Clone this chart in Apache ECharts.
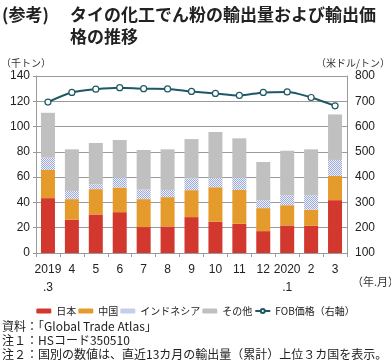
<!DOCTYPE html>
<html><head><meta charset="utf-8">
<script src="https://cdn.jsdelivr.net/npm/echarts@6/dist/echarts.min.js"></script>
<style>html,body{margin:0;padding:0;background:#fff}#c{width:391px;height:362px}</style>
</head><body><div id="c"></div>
<script>
const categories = ['2019\n.3','4','5','6','7','8','9','10','11','12','2020\n.1','2','3'];
const japan = [43.4,26.3,30.5,32.3,20.5,21.0,28.4,24.7,23.1,17.3,21.8,21.5,41.8];
const china = [22.3,16.3,20.0,19.5,22.1,23.2,21.3,27.3,26.8,18.2,16.0,12.7,19.2];
const indonesia = [9.7,6.5,3.9,8.1,7.6,5.7,9.4,7.4,10.0,6.3,7.9,11.5,12.6];
const others = [35.5,32.9,32.6,29.5,31.3,32.1,31.0,36.3,30.8,30.2,35.2,36.3,36.0];
const fob = [697,735,748,754,750,749,739,731,723,735,737,715,682];
const leftTicks = {min:0,max:140,interval:20};
const rightTicks = {min:100,max:800,interval:100};

const JP = '"Noto Sans CJK JP", sans-serif';
const NUM = '"Liberation Sans", Arial, sans-serif';

function hatch(){
  const c = document.createElement('canvas'); c.width = 4; c.height = 4;
  const x = c.getContext('2d');
  x.fillStyle = '#eef1fa'; x.fillRect(0,0,4,4);
  x.fillStyle = '#9eabd9';
  x.fillRect(0,0,1,1); x.fillRect(2,0,1,1); x.fillRect(1,1,1,1); x.fillRect(3,1,1,1);
  x.fillRect(0,2,1,1); x.fillRect(2,2,1,1); x.fillRect(1,3,1,1); x.fillRect(3,3,1,1);
  return c;
}
const pat = {image: hatch(), repeat: 'repeat'};

const chart = echarts.init(document.getElementById('c'));
const barW = 14;
chart.setOption({
  animation:false,
  textStyle:{fontFamily:NUM},
  grid:{left:36,right:44,top:76,bottom:109},
  legend:{
    top:301,left:'center',itemWidth:15,itemHeight:5,itemGap:2,
    textStyle:{fontFamily:JP,fontSize:10,color:'#222'},
    data:['日本','中国','インドネシア','その他','FOB価格（右軸）']
  },
  xAxis:{
    type:'category',data:categories,
    axisLine:{lineStyle:{color:'#9a9a9a',width:1}},
    axisTick:{show:true,alignWithLabel:false,length:4,lineStyle:{color:'#9a9a9a'}},
    axisLabel:{color:'#222',fontSize:12,fontFamily:NUM,lineHeight:18,margin:8,interval:0}
  },
  yAxis:[
    {type:'value',min:leftTicks.min,max:leftTicks.max,interval:leftTicks.interval,
     axisLine:{show:true,lineStyle:{color:'#9a9a9a'}},
     axisTick:{show:true,length:3,lineStyle:{color:'#9a9a9a'}},
     splitLine:{lineStyle:{color:'#9a9a9a',width:1}},
     axisLabel:{color:'#222',fontSize:12,fontFamily:NUM,margin:6}},
    {type:'value',min:rightTicks.min,max:rightTicks.max,interval:rightTicks.interval,
     axisLine:{show:true,lineStyle:{color:'#9a9a9a'}},
     axisTick:{show:false},
     splitLine:{show:false},
     axisLabel:{color:'#222',fontSize:12,fontFamily:NUM,margin:8}}
  ],
  series:[
    {name:'日本',type:'bar',stack:'a',barWidth:barW,data:japan,itemStyle:{color:'#d2382e'}},
    {name:'中国',type:'bar',stack:'a',barWidth:barW,data:china,itemStyle:{color:'#e59a2c'}},
    {name:'インドネシア',type:'bar',stack:'a',barWidth:barW,data:indonesia,itemStyle:{color:pat}},
    {name:'その他',type:'bar',stack:'a',barWidth:barW,data:others,itemStyle:{color:'#c0c0c0'}},
    {name:'FOB価格（右軸）',type:'line',yAxisIndex:1,data:fob,smooth:0.3,
     symbol:'circle',symbolSize:6,
     lineStyle:{color:'#1f5865',width:2},
     itemStyle:{color:'#fff',borderColor:'#1f5865',borderWidth:1.2}}
  ],
  graphic:[
    {type:'text',left:2,top:6,style:{text:'(参考)',font:'bold 17px '+JP,fill:'#222'}},
    {type:'text',left:70,top:6,style:{text:'タイの化工でん粉の輸出量および輸出価',font:'bold 17px '+JP,fill:'#222'}},
    {type:'text',left:70,top:28,style:{text:'格の推移',font:'bold 17px '+JP,fill:'#222'}},
    {type:'text',left:1,top:58,style:{text:'（千トン）',font:'10px '+JP,fill:'#333'}},
    {type:'text',right:1,top:58,style:{text:'（米ドル/トン）',font:'10px '+JP,fill:'#333'}},
    {type:'text',left:352,top:276,style:{text:'（年.月）',font:'11px '+JP,fill:'#333'}},
    {type:'text',left:2,top:320,style:{text:'資料：「Global Trade Atlas」',font:'12px '+JP,fill:'#222'}},
    {type:'text',left:2,top:334,style:{text:'注１：HSコード350510',font:'12px '+JP,fill:'#222'}},
    {type:'text',left:2,top:348,style:{text:'注２：国別の数値は、直近13カ月の輸出量（累計）上位３カ国を表示。',font:'12px '+JP,fill:'#222'}}
  ]
});
</script></body></html>
